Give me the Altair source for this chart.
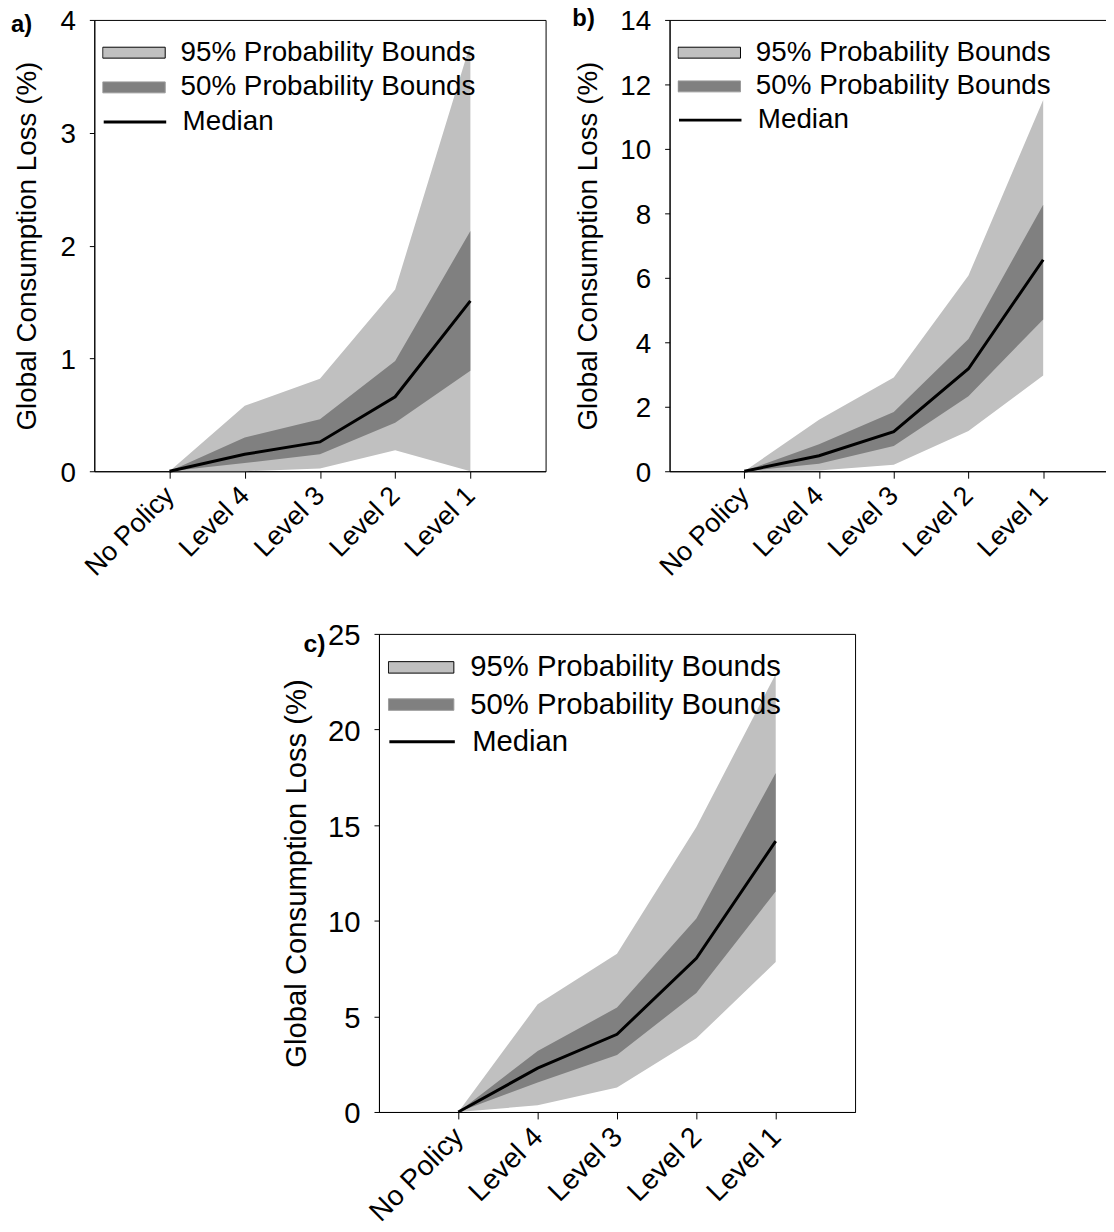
import altair as alt
import pandas as pd

FONT = "Liberation Sans"

categories = ["No Policy", "Level 4", "Level 3", "Level 2", "Level 1"]
series_names = ["95% Probability Bounds", "50% Probability Bounds", "Median"]
series_colors = ["#c0c0c0", "#808080", "#000000"]
y_title = "Global Consumption Loss (%)"

# Panel a
a_lo95 = [0, 0.0, 0.025, 0.185, 0.0]
a_hi95 = [0, 0.58, 0.82, 1.61, 3.79]
a_lo50 = [0, 0.073, 0.15, 0.43, 0.89]
a_hi50 = [0, 0.30, 0.46, 0.976, 2.13]
a_med = [0, 0.15, 0.26, 0.66, 1.51]
a_ticks = [0, 1, 2, 3, 4]

# Panel b
b_lo95 = [0, 0.02, 0.2, 1.25, 2.97]
b_hi95 = [0, 1.6, 2.91, 6.07, 11.52]
b_lo50 = [0, 0.23, 0.78, 2.33, 4.71]
b_hi50 = [0, 0.84, 1.84, 4.1, 8.27]
b_med = [0, 0.48, 1.23, 3.18, 6.56]
b_ticks = [0, 2, 4, 6, 8, 10, 12, 14]

# Panel c
c_lo95 = [0, 0.35, 1.28, 3.85, 7.84]
c_hi95 = [0, 5.63, 8.27, 14.9, 22.9]
c_lo50 = [0, 1.54, 2.98, 6.22, 11.53]
c_hi50 = [0, 3.19, 5.46, 10.12, 17.72]
c_med = [0, 2.29, 4.06, 8.04, 14.16]
c_ticks = [0, 5, 10, 15, 20, 25]

BAND_PATH = "M-1,-0.175H1V0.175H-1Z"


def leg(fs, x, y, sym, ofs, stype, scol, swidth):
    return alt.Legend(
        title=None, orient="none", legendX=x, legendY=y, padding=0,
        symbolType=stype, symbolSize=sym * sym, symbolStrokeColor=scol,
        symbolStrokeWidth=swidth, symbolOpacity=1,
        labelFont=FONT, labelFontSize=fs, labelColor="black", labelLimit=500,
        labelOffset=ofs, clipHeight=fs)


def make_panel(lo95, hi95, lo50, hi50, med, ticks, ymax, w, h, fs, xfs,
               leg_x, leg_y, leg_step, leg_sym, leg_ofs,
               tag, tag_x, tag_y, tag_fs, title_x):
    df = pd.DataFrame({"category": categories, "lo95": lo95, "hi95": hi95,
                       "lo50": lo50, "hi50": hi50, "med": med})
    xenc = alt.X("category:O", sort=categories,
                 scale=alt.Scale(type="point", padding=1),
                 axis=alt.Axis(title=None, labelAngle=-45, labelAlign="right",
                               labelBaseline="middle", labelFont=FONT, labelFontSize=xfs,
                               labelColor="black", labelPadding=13, tickSize=7,
                               labelLimit=400, grid=False, domainColor="black",
                               tickColor="black"))
    yscale = alt.Scale(domain=[0, ymax], nice=False)
    yaxis = alt.Axis(title=y_title, values=ticks, tickSize=5, labelPadding=14,
                     labelOffset=2,
                     labelFont=FONT, labelFontSize=fs, labelColor="black",
                     titleFont=FONT, titleFontSize=fs, titleFontWeight="normal",
                     titleColor="black", titleX=title_x, titleY=h / 2,
                     titleAlign="center", titleBaseline="middle", titleAngle=270,
                     grid=False, domainColor="black", tickColor="black")
    base = alt.Chart(df)
    band95 = base.transform_calculate(series="'%s'" % series_names[0]).mark_area(
        opacity=1).encode(
        x=xenc, y=alt.Y("lo95:Q", scale=yscale, axis=yaxis), y2="hi95:Q",
        color=alt.Color("series:N",
                        scale=alt.Scale(domain=[series_names[0]], range=[series_colors[0]]),
                        legend=leg(fs, leg_x, leg_y, leg_sym, leg_ofs, BAND_PATH,
                                   "#000000", 1)))
    band50 = base.transform_calculate(series="'%s'" % series_names[1]).mark_area(
        opacity=1).encode(
        x=xenc, y=alt.Y("lo50:Q", scale=yscale, axis=yaxis), y2="hi50:Q",
        fill=alt.Fill("series:N",
                      scale=alt.Scale(domain=[series_names[1]], range=[series_colors[1]]),
                      legend=leg(fs, leg_x, leg_y + leg_step, leg_sym, leg_ofs, BAND_PATH,
                                 "#9a9a9a", 1)))
    line = base.transform_calculate(series="'%s'" % series_names[2]).mark_line(
        strokeWidth=3).encode(
        x=xenc, y=alt.Y("med:Q", scale=yscale, axis=yaxis),
        stroke=alt.Stroke("series:N",
                          scale=alt.Scale(domain=[series_names[2]], range=[series_colors[2]]),
                          legend=leg(fs, leg_x, leg_y + 2 * leg_step, leg_sym, leg_ofs,
                                     "stroke", "#000000", 3)))
    tag_layer = alt.Chart(pd.DataFrame({"tag": [tag]})).mark_text(
        font=FONT, fontSize=tag_fs, fontWeight="bold", align="left",
        baseline="alphabetic", color="black").encode(
        text="tag:N", x=alt.value(tag_x), y=alt.value(tag_y))
    return alt.layer(band95, band50, line, tag_layer).properties(width=w, height=h)


pa = make_panel(a_lo95, a_hi95, a_lo50, a_hi50, a_med, a_ticks, 4, 455, 455, 28, 27,
                8, 19, 35, 63, 15, "a)", -84, 12, 24, -67)
pb = make_panel(b_lo95, b_hi95, b_lo50, b_hi50, b_med, b_ticks, 14, 452, 455, 28, 27,
                8, 19, 34, 63, 15, "b)", -98, 6, 24, -82)
pc = make_panel(c_lo95, c_hi95, c_lo50, c_hi50, c_med, c_ticks, 25, 480, 482, 29.5, 28.5,
                9, 19, 37.5, 66, 16, "c)", -76, 18, 25, -83)

spacer = alt.Chart(pd.DataFrame({"v": [0]})).mark_point(opacity=0).properties(
    width=200, height=482, view=alt.ViewBackground(stroke="transparent"))


def indep(c):
    return c.resolve_scale(color="independent", fill="independent",
                           stroke="independent").resolve_legend(
        color="independent", fill="independent", stroke="independent")


top = indep(alt.hconcat(pa, pb, spacing=125, bounds="flush"))
bottom = indep(alt.hconcat(spacer, pc, spacing=87, bounds="flush"))

chart = indep(alt.vconcat(top, bottom, spacing=39)).properties(
    padding={"left": 2, "top": -7, "right": -13, "bottom": 5}
).configure_view(stroke="black", strokeWidth=1).configure_axis(
    domainWidth=1, tickWidth=1)

chart.save("out.html", embed_options={"renderer": "svg", "actions": False})
